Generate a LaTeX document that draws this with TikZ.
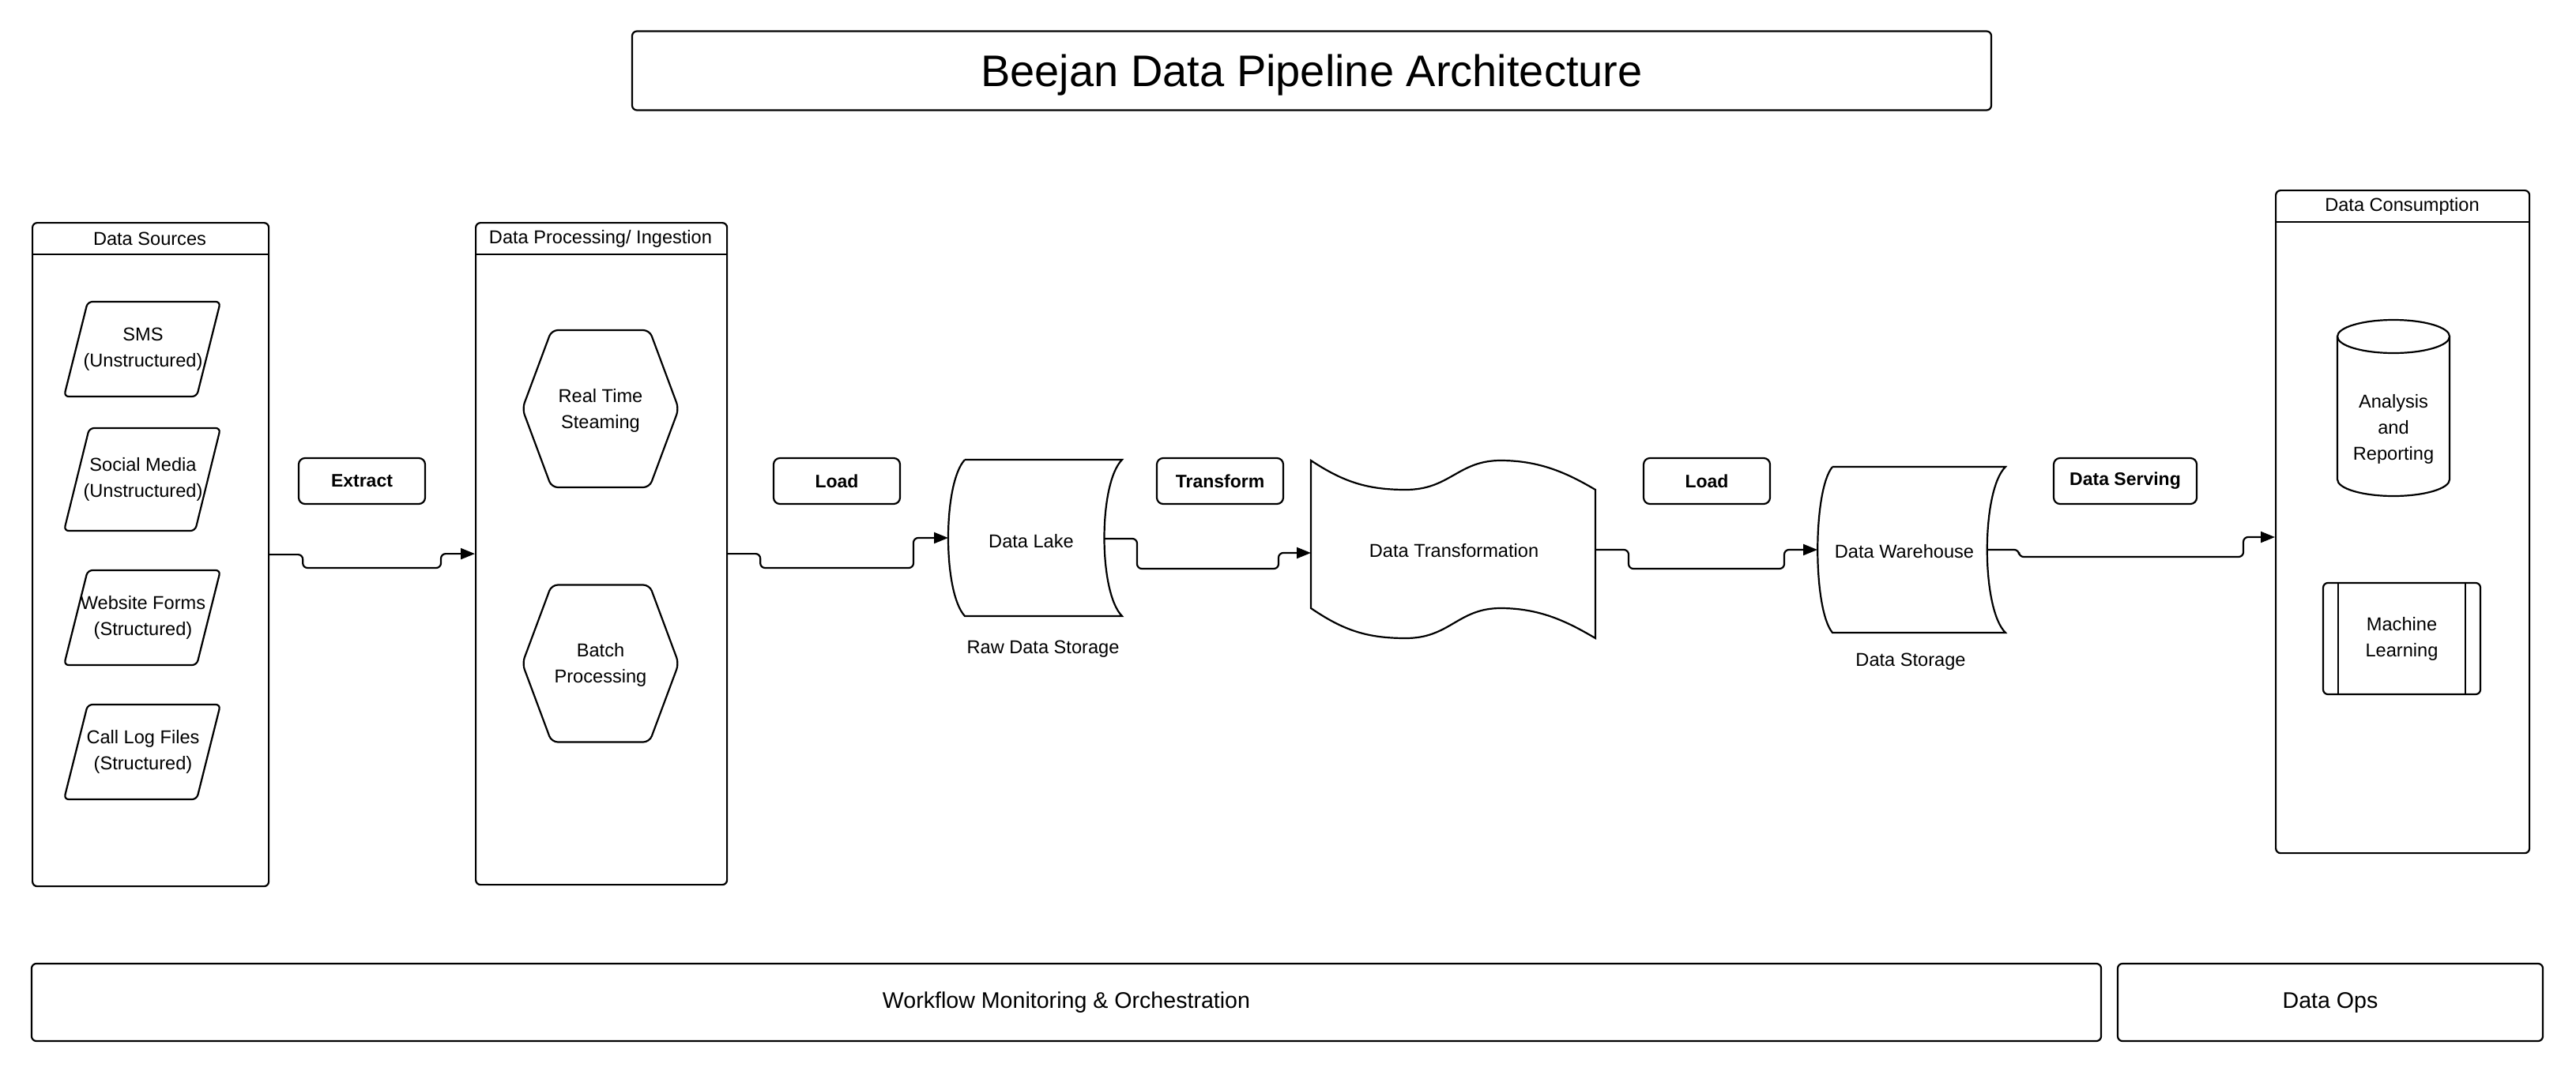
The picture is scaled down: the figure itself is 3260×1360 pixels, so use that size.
\documentclass[tikz,border=0pt]{standalone}
\usepackage{fontspec}
\setmainfont{Liberation Sans}
\usetikzlibrary{arrows.meta}
\tikzset{
  ln/.style={line width=1.1pt},
  cont/.style={draw, ln, rounded corners=3pt, inner sep=0pt, anchor=north west},
  lblbox/.style={draw, ln, rounded corners=4pt, minimum width=80pt, minimum height=29pt, inner sep=0pt, font=\bfseries\fontsize{11.5}{14}\selectfont},
  txt/.style={font=\fontsize{11.8}{16.5}\selectfont, align=center, inner sep=0pt},
  big/.style={draw, ln, rounded corners=3pt, inner sep=0pt, minimum height=49pt, font=\fontsize{14.3}{17}\selectfont},
  conn/.style={ln, rounded corners=3pt, -{Triangle[length=9pt,width=7pt]}},
  para/.pic={\draw[ln, rounded corners=3pt] (-99,60) -- (-69,-60) -- (99,-60) -- (69,60) -- cycle;},
  paratall/.pic={\draw[ln, rounded corners=3pt] (-99,65) -- (-67,-65) -- (99,-65) -- (67,65) -- cycle;},
  hexa/.pic={\draw[ln, rounded corners=4pt] (-99,0) -- (-62,-99.5) -- (62,-99.5) -- (99,0) -- (62,99.5) -- (-62,99.5) -- cycle;}
}
\begin{document}
\begin{tikzpicture}[x=0.5pt, y=-0.5pt]
\useasboundingbox (0,0) rectangle (3260,1360);
% title
\node[draw, ln, rounded corners=3pt, minimum width=860pt, minimum height=50pt, inner sep=0pt] (title) at (1660,89.5) {};
\node[font=\fontsize{28}{32}\selectfont, inner sep=0pt, anchor=base] (titletext) at (1660,109) {Beejan Data Pipeline Architecture};

% Data Sources container
\node[cont, minimum width=149.5pt, minimum height=420pt] (ds) at (40,281) {};
\draw[ln] (ds.north west |- 0,322) -- (ds.north east |- 0,322);
\node[txt] (dsh) at (189.5,302) {Data Sources};
\pic at (180,442) {para};
\node[txt] (sms) at (181,442) {SMS\\(Unstructured)};
\pic at (180,607) {paratall};
\node[txt] (soc) at (181,607) {Social Media\\(Unstructured)};
\pic at (180,782) {para};
\node[txt] (web) at (181,782) {Website Forms\\(Structured)};
\pic at (180,952) {para};
\node[txt] (call) at (181,952) {Call Log Files\\(Structured)};

% Data Processing container
\node[cont, minimum width=159pt, minimum height=419pt] (dp) at (601,281) {};
\draw[ln] (dp.north west |- 0,322) -- (dp.north east |- 0,322);
\node[txt] (dph) at (760,302) {Data Processing/ Ingestion};
\pic at (760,517.5) {hexa};
\node[txt] (rt) at (760,520) {Real Time\\Steaming};
\pic at (760,840) {hexa};
\node[txt] (bp) at (760,842) {Batch\\Processing};

% Data Lake
\draw[ln] (1221,582) -- (1420,582) .. controls (1390,612) and (1390,750) .. (1420,780) -- (1221,780) .. controls (1193,750) and (1193,612) .. (1221,582);
\node[txt] (dl) at (1305,685) {Data Lake};
\node[txt] (raw) at (1320,822) {Raw Data Storage};
\coordinate (dlW) at (1200,681);
\coordinate (dlE) at (1397,682);

% Data Transformation
\draw[ln] (1659,583) .. controls (1700,610) and (1730,620) .. (1779,620) .. controls (1835,620) and (1845,583) .. (1899,583) .. controls (1950,583) and (1985,600) .. (2019,620)
  -- (2019,808) .. controls (1985,788) and (1950,770) .. (1899,770) .. controls (1845,770) and (1835,808) .. (1779,808) .. controls (1730,808) and (1700,798) .. (1659,770) -- cycle;
\node[txt] (dt) at (1840,697) {Data Transformation};
\coordinate (dtW) at (1659,700);
\coordinate (dtE) at (2019,696);

% Data Warehouse
\draw[ln] (2319,591) -- (2538,591) .. controls (2507,621) and (2507,771) .. (2538,801) -- (2319,801) .. controls (2294,771) and (2294,621) .. (2319,591);
\node[txt] (dw) at (2410,698) {Data Warehouse};
\node[txt] (dst) at (2418,838) {Data Storage};
\coordinate (dwW) at (2300,696);
\coordinate (dwE) at (2515,696);

% Data Consumption container
\node[cont, minimum width=160.5pt, minimum height=419.5pt] (dc) at (2879,240) {};
\draw[ln] (dc.north west |- 0,281) -- (dc.north east |- 0,281);
\node[txt] (dch) at (3040,261) {Data Consumption};
\coordinate (dcIn) at (2879,680);
% cylinder
\draw[ln] (2958,426) -- (2958,607) arc[start angle=180, end angle=0, x radius=71, y radius=21] -- (3100,426);
\draw[ln] (3029,426) ellipse [x radius=71, y radius=21];
\node[txt] (ar) at (3029,543) {Analysis\\and\\Reporting};
% machine learning
\node[draw, ln, rounded corners=3pt, inner sep=0pt, minimum width=99.5pt, minimum height=70.5pt, txt] (ml) at (3039.5,808.5) {Machine\\Learning};
\draw[ln] ([xshift=10pt]ml.north west) -- ([xshift=10pt]ml.south west);
\draw[ln] ([xshift=-10pt]ml.north east) -- ([xshift=-10pt]ml.south east);

% labels
\node[lblbox] (ext) at (458,609) {Extract};
\node[lblbox] (ld1) at (1059,609) {Load};
\node[lblbox] (trf) at (1544,609) {Transform};
\node[lblbox] (ld2) at (2160,609) {Load};
\node[lblbox, minimum width=90.5pt] (srv) at (2689.5,609) {Data Serving};

% connectors
\draw[conn] (ds.east) -- ++(42,0) |- (558,719) |- (dp.west);
\draw[conn] (dp.east) -- ++(41,0) |- (1156,719) |- (dlW);
\draw[conn] (dlE) -- ++(42,0) |- (1618,720) |- (dtW);
\draw[conn] (dtE) -- ++(42,0) |- (2258,720) |- (dwW);
\draw[conn] (dwE) -- ++(40,0) |- (2839,705) |- (dcIn);

% bottom bars
\node[big, minimum width=1309.5pt] (wf) at (1349.5,1269) {Workflow Monitoring \& Orchestration};
\node[big, minimum width=269pt] (ops) at (2949,1269) {Data Ops};
\end{tikzpicture}
\end{document}
